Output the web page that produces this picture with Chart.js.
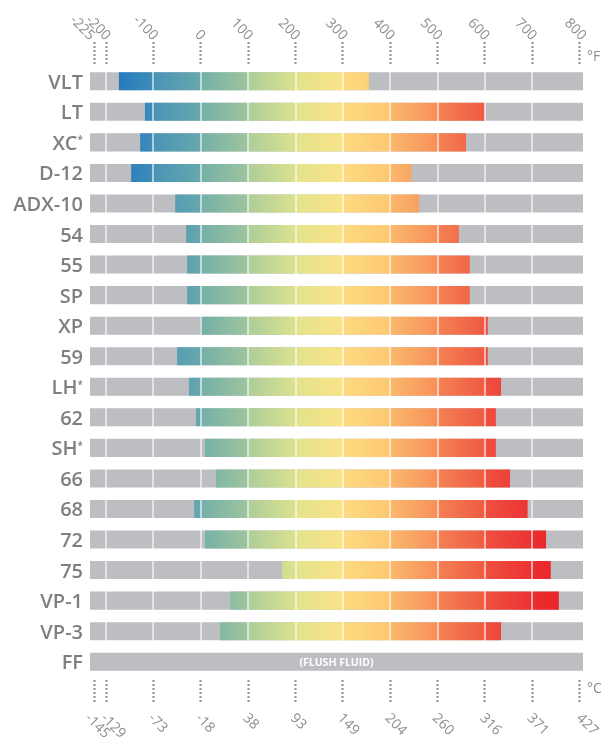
<!DOCTYPE html>
<html>
<head>
<meta charset="utf-8">
<script src="https://cdn.jsdelivr.net/npm/chart.js@4"></script>
<style>
  html, body { margin: 0; padding: 0; background: #fff; }
  #wrap { position: relative; width: 605px; height: 738px; }
</style>
</head>
<body>
<div id="wrap"><canvas id="tempChart"></canvas></div>
<script>
// Fluid grades, top to bottom
const categories = ['VLT', 'LT', 'XC*', 'D-12', 'ADX-10', '54', '55', 'SP', 'XP', '59',
                    'LH*', '62', 'SH*', '66', '68', '72', '75', 'VP-1', 'VP-3', 'FF'];
// Operating range in °F (FF is a flush fluid, no range)
const lowF  = [-173, -118, -128, -147, -54, -31, -29, -29, -1, -50,
               -25, -10, 9, 32, -14, 9, 171, 62, 41, null];
const highF = [355, 599, 560, 445, 461, 545, 568, 568, 606, 606,
               634, 623, 623, 653, 690, 729, 739, 756, 634, null];

// Axis ticks: °F on top, same positions in °C at the bottom
const fTicks = [-225, -200, -100, 0, 100, 200, 300, 400, 500, 600, 700, 800];
const cTicks = ['-145', '-129', '-73', '-18', '38', '93', '149', '204', '260', '316', '371', '427'];
const axisMin = -234;
const axisMax = 807;
const flushText = '(FLUSH FLUID)';

const labelGray = '#7f7f7f';
const tickGray = '#8d8d8d';
const trackGray = '#bdbec2';

// colour ramp, one little gradient per 100°F band
const bands = [
    [-234, -200, '#1872bc', '#1b76be'],
    [-200, -100, '#1b76be', '#3f8cb9'],
    [-100, 0, '#4a93b6', '#66a8ad'],
    [0, 100, '#74afa8', '#9ec59e'],
    [100, 200, '#adcd99', '#dbe28e'],
    [200, 300, '#e3e38c', '#fae387'],
    [300, 400, '#fddb82', '#fdc773'],
    [400, 500, '#fbb86b', '#f6905a'],
    [500, 600, '#f48153', '#ef5a43'],
    [600, 700, '#ef5040', '#eb3232'],
    [700, 807, '#ec2d2e', '#e8202a']
];

let rampCache = null;
const rampFill = (context) => {
    const chart = context.chart;
    const xs = chart.scales.x;
    if (!chart.chartArea || !xs) return '#e3e38c';
    const x0 = xs.getPixelForValue(axisMin);
    const x1 = xs.getPixelForValue(axisMax);
    const key = x0 + ':' + x1;
    if (rampCache && rampCache.key === key) return rampCache.grad;
    const grad = chart.ctx.createLinearGradient(x0, 0, x1, 0);
    const off = v => Math.min(1, Math.max(0, (xs.getPixelForValue(v) - x0) / (x1 - x0)));
    bands.forEach(([a, b, c1, c2]) => {
        grad.addColorStop(Math.min(1, off(a) + 0.0004), c1);
        grad.addColorStop(Math.max(0, off(b) - 0.0004), c2);
    });
    rampCache = { key, grad };
    return grad;
};

const font = (size, weight) => `${weight} ${size}px "Open Sans", "DejaVu Sans", sans-serif`;

// white grid lines over the bars, tick labels, units and row names
const textPlugin = {
    id: 'textPlugin',
    afterDatasetsDraw(chart) {
        const { ctx, chartArea, scales: { x, y } } = chart;
        const last = categories.length - 1;
        const bottom = (y.getPixelForValue(last - 1) + y.getPixelForValue(last)) / 2;
        ctx.save();
        ctx.strokeStyle = 'rgba(255,255,255,0.72)';
        ctx.lineWidth = 1.6;
        fTicks.slice(1, -1).forEach(v => {
            const px = Math.round(x.getPixelForValue(v));
            ctx.beginPath();
            ctx.moveTo(px, chartArea.top);
            ctx.lineTo(px, bottom);
            ctx.stroke();
        });
        ctx.restore();
    },
    afterDraw(chart) {
        const { ctx, chartArea, scales: { x, y } } = chart;
        ctx.save();

        // row names
        categories.forEach((name, i) => {
            const cy = y.getPixelForValue(i);
            const base = cy + 7.5;
            const right = chartArea.left - 7;
            const star = name.endsWith('*');
            const txt = star ? name.slice(0, -1) : name;
            ctx.fillStyle = labelGray;
            ctx.textBaseline = 'alphabetic';
            let end = right;
            if (star) {
                ctx.font = font(10, 600);
                const w = ctx.measureText('*').width;
                end = right - w;
                ctx.textAlign = 'left';
                ctx.fillText('*', end, base - 6.5);
            }
            ctx.font = font(20, 600);
            ctx.textAlign = 'right';
            ctx.fillText(txt, end, base);
        });

        // flush fluid note
        ctx.font = font(10.5, 700);
        ctx.fillStyle = '#ffffff';
        ctx.textAlign = 'center';
        ctx.textBaseline = 'middle';
        ctx.fillText(flushText, (chartArea.left + chartArea.right) / 2, y.getPixelForValue(categories.length - 1) + 1);

        // rotated tick labels (the two end labels pushed out a bit so they don't collide)
        ctx.font = font(14, 400);
        ctx.fillStyle = tickGray;
        fTicks.forEach((v, i) => {
            const nudge = i === 0 ? -4 : (i === fTicks.length - 1 ? 2 : 0);
            const px = x.getPixelForValue(v) + nudge;
            ctx.save();
            ctx.translate(px + 2, 38);
            ctx.rotate(Math.PI / 4);
            ctx.textAlign = 'right';
            ctx.textBaseline = 'middle';
            ctx.fillText(String(v), 0, 0);
            ctx.restore();

            ctx.save();
            ctx.translate(px - 3, 716);
            ctx.rotate(Math.PI / 4);
            ctx.textAlign = 'left';
            ctx.textBaseline = 'middle';
            ctx.fillText(cTicks[i], 0, 0);
            ctx.restore();
        });

        // units
        ctx.font = font(14, 400);
        ctx.textAlign = 'left';
        ctx.textBaseline = 'middle';
        ctx.fillText('°F', chartArea.right + 4, 57);
        ctx.fillText('°C', chartArea.right + 4, 689);

        ctx.restore();
    }
};

const setTicks = scale => { scale.ticks = fTicks.map(v => ({ value: v })); };

new Chart(document.getElementById('tempChart').getContext('2d'), {
    type: 'bar',
    data: {
        labels: categories,
        datasets: [
            {
                label: 'Range °F',
                data: lowF.map((lo, i) => lo === null ? null : [lo, highF[i]]),
                backgroundColor: rampFill,
                borderWidth: 0,
                grouped: false,
                barPercentage: 0.59,
                categoryPercentage: 1
            },
            {
                label: 'Track',
                data: categories.map(() => [axisMin, axisMax]),
                backgroundColor: trackGray,
                borderWidth: 0,
                grouped: false,
                barPercentage: 0.59,
                categoryPercentage: 1
            }
        ]
    },
    options: {
        indexAxis: 'y',
        responsive: true,
        maintainAspectRatio: false,
        animation: false,
        layout: { padding: { top: 42, bottom: 35, left: 90, right: 22 } },
        plugins: {
            legend: { display: false },
            tooltip: { enabled: false }
        },
        scales: {
            x: {
                type: 'linear',
                position: 'top',
                min: axisMin,
                max: axisMax,
                afterBuildTicks: setTicks,
                ticks: { display: false },
                border: { display: false },
                grid: {
                    drawOnChartArea: false,
                    tickLength: 24,
                    tickWidth: 2,
                    tickColor: tickGray,
                    tickBorderDash: [2, 2]
                }
            },
            x2: {
                type: 'linear',
                position: 'bottom',
                min: axisMin,
                max: axisMax,
                afterBuildTicks: setTicks,
                ticks: { display: false },
                border: { display: false },
                grid: {
                    drawOnChartArea: false,
                    tickLength: 26,
                    tickWidth: 2,
                    tickColor: tickGray,
                    tickBorderDash: [0, 3, 2, 2, 2, 2, 2, 2, 2, 2, 2, 2, 2, 2, 2, 2]
                }
            },
            y: {
                display: false
            }
        }
    },
    plugins: [textPlugin]
});
</script>
</body>
</html>
